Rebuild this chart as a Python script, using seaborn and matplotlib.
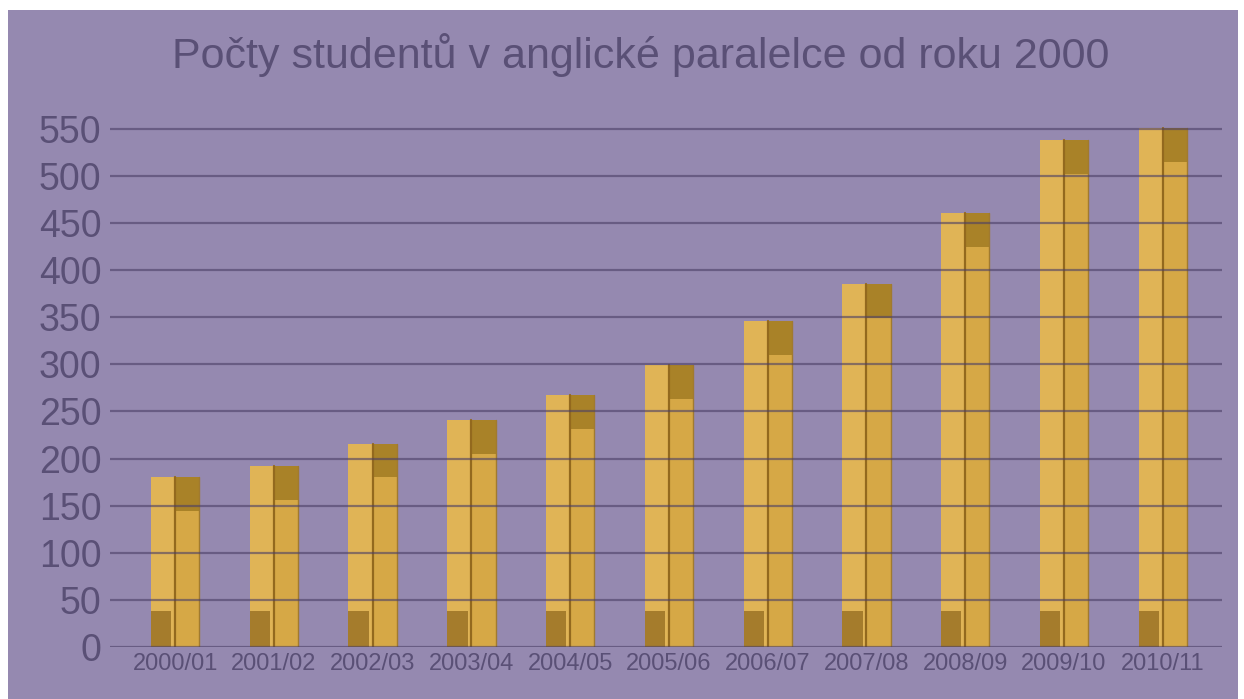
import pandas as pd
import seaborn as sns
import matplotlib.pyplot as plt
from matplotlib.patches import Rectangle

sns.set_style("white")
plt.rcParams['font.family'] = ['Liberation Sans', 'DejaVu Sans']

# data
years = ['2000/01', '2001/02', '2002/03', '2003/04', '2004/05', '2005/06',
         '2006/07', '2007/08', '2008/09', '2009/10', '2010/11']
students = [180, 192, 216, 241, 267, 299, 346, 385, 461, 538, 551]
y_ticks = list(range(0, 551, 50))

df = pd.DataFrame({'rok': years, 'studenti': students})

bg = '#9589b0'
text_col = '#5a5076'
grid_col = '#4a3f66'

fig = plt.figure(figsize=(12.44, 6.99), dpi=100, facecolor='white')
# purple panel with thin white border at left/top/right
fig.patches.append(Rectangle((8 / 1244, 0), 1230 / 1244, 689 / 699,
                             transform=fig.transFigure, facecolor=bg,
                             edgecolor='none', zorder=-5))
ax = fig.add_axes([110 / 1244, 52 / 699, 1112 / 1244, 520 / 699])
ax.set_facecolor(bg)
ax.set_zorder(1)

sns.barplot(data=df, x='rok', y='studenti', color='#e0b456', width=0.49,
            saturation=1, ax=ax, zorder=2)

# fake 3D shading on each bar
for p in list(ax.patches):
    x0, w, h = p.get_x(), p.get_width(), p.get_height()
    p.set_edgecolor('none')
    ax.add_patch(Rectangle((x0 + w / 2, 0), w / 2, h, facecolor='#d6a846',
                           edgecolor='none', zorder=2.1))
    ax.add_patch(Rectangle((x0 + w / 2, h - 36), w / 2, 36, facecolor='#a98228',
                           edgecolor='none', zorder=2.2))
    ax.add_patch(Rectangle((x0, 0), w * 0.42, 38, facecolor='#a57c2c',
                           edgecolor='none', zorder=2.2))
    ax.plot([x0 + w / 2, x0 + w / 2], [0, h], color='#93691e', lw=1.6, zorder=2.3)
    ax.plot([x0 + w, x0 + w], [0, h], color='#a07a30', lw=1.0, zorder=2.3)

for t in y_ticks:
    ax.axhline(t, color=grid_col, lw=1.6, alpha=0.6, zorder=3)

ax.set_ylim(0, 552)
ax.set_xlim(-0.66, 10.6)
ax.set_yticks(y_ticks)
ax.set_xlabel('')
ax.set_ylabel('')
ax.tick_params(axis='y', labelsize=27, colors=text_col, length=0, pad=6)
ax.tick_params(axis='x', labelsize=17, colors=text_col, length=0, pad=4)
for s in ax.spines.values():
    s.set_visible(False)

fig.text(641 / 1244, 1 - 55 / 699, 'Počty studentů v anglické paralelce od roku 2000',
         ha='center', va='center', fontsize=31, color=text_col)

plt.savefig('out.png', dpi=100, facecolor='white')
